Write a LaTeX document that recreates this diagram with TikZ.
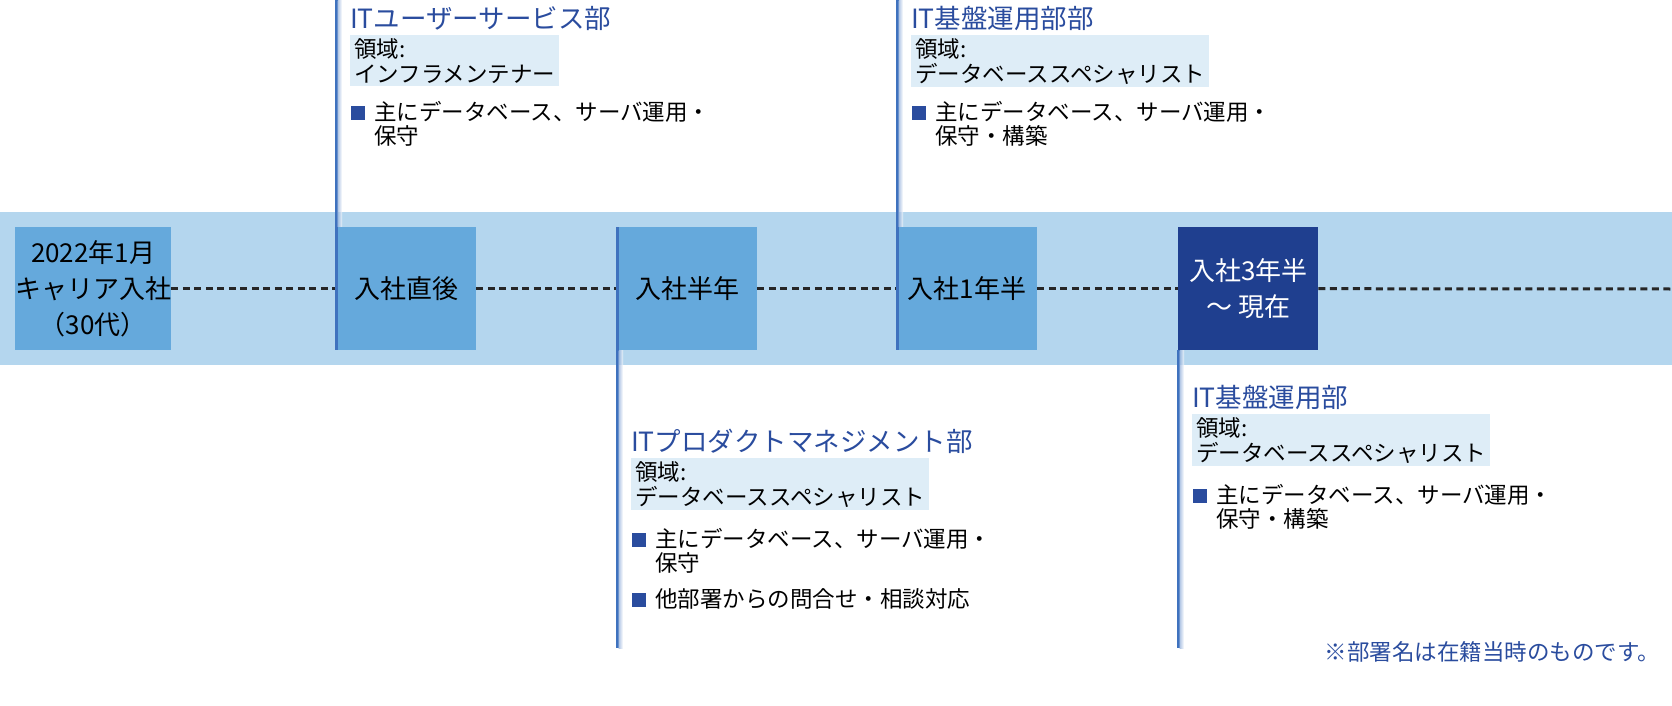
\documentclass[tikz,border=0pt]{standalone}
\usepackage{fontspec}
\setmainfont{Noto Sans CJK JP}
\begin{document}
\begin{tikzpicture}[x=1pt,y=-1pt,
  band/.style={fill=bandc,draw=none},
  stage/.style={fill=boxc,draw=none,minimum width=140pt,minimum height=123pt,inner sep=0pt,align=center,font=\fontsize{26}{36}\selectfont,anchor=north west},
  dotline/.style={line width=3pt,dash pattern=on 7pt off 4.5pt,black!85},
  dept/.style={anchor=west,text=deptc,font=\fontsize{26.5}{30}\selectfont,inner sep=0pt},
  area/.style={anchor=north west,fill=areac,align=left,font=\fontsize{22.5}{25}\selectfont,inner xsep=4pt,inner ysep=3pt},
  bul/.style={anchor=north west,align=left,font=\fontsize{22.5}{24}\selectfont,inner sep=0pt},
  sq/.style={fill=deptc,minimum size=14pt,inner sep=0pt,anchor=north west}]
\definecolor{bandc}{HTML}{B4D6EE}
\definecolor{boxc}{HTML}{65A9DC}
\definecolor{darkc}{HTML}{1F3F8F}
\definecolor{deptc}{HTML}{2A4C9E}
\definecolor{areac}{HTML}{DEEDF7}
\definecolor{linec}{HTML}{3F72BE}
\useasboundingbox (0,0) rectangle (1672,706);
\fill[band] (0,212) rectangle (1672,365);
% vertical lines
\newcommand\vl[3]{\fill[linec] (#1,#2) rectangle (#1+2.5,#3);
  \shade[left color=linec!60!white,right color=white,opacity=0.7] (#1+2.5,#2) rectangle (#1+7,#3);}
\vl{335}{0}{227}
\vl{896}{0}{227}
\vl{616}{350}{648}
\vl{1177}{350}{648}
% stages
\node[stage] (s0) at (15,227) {2022年1月\\キャリア入社\\（30代）};
\node[stage] (s1) at (336,227) {入社直後};
\node[stage] (s2) at (617,227) {入社半年};
\node[stage] (s3) at (897,227) {入社1年半};
\node[stage,fill=darkc,text=white] (s4) at (1178,227) {入社3年半\\〜 現在};
\coordinate (end) at (1672,289);
\draw[dotline] (s0.east) -- (s1.west);
\draw[dotline] (s1.east) -- (s2.west);
\draw[dotline] (s2.east) -- (s3.west);
\draw[dotline] (s3.east) -- (s4.west);
\draw[dotline] (s4.east) -- (end);
\fill[linec] (335,227) rectangle (337.5,350);
\fill[linec] (616,227) rectangle (618.5,350);
\fill[linec] (896,227) rectangle (898.5,350);
% column texts
\newcommand\col[6]{%
 \node[dept] (#1d) at (#2,#3) {#4};
 \node[area] (#1a) at (#2,#3+17) {領域:\\#5};
 #6}
\col{a}{350}{18}{ITユーザーサービス部}{インフラメンテナー}{%
 \node[sq] (aq1) at (351,106) {}; \node[bul] (ab1) at (374,101) {主にデータベース、サーバ運用・\\保守};}
\col{b}{911}{18}{IT基盤運用部部}{データベーススペシャリスト}{%
 \node[sq] (bq1) at (912,106) {}; \node[bul] (bb1) at (935,101) {主にデータベース、サーバ運用・\\保守・構築};}
\col{c}{631}{441}{ITプロダクトマネジメント部}{データベーススペシャリスト}{%
 \node[sq] (cq1) at (632,533) {}; \node[bul] (cb1) at (655,528) {主にデータベース、サーバ運用・\\保守};
 \node[sq] (cq2) at (632,593) {}; \node[bul] (cb2) at (655,588) {他部署からの問合せ・相談対応};}
\col{d}{1192}{397}{IT基盤運用部}{データベーススペシャリスト}{%
 \node[sq] (dq1) at (1193,489) {}; \node[bul] (db1) at (1216,484) {主にデータベース、サーバ運用・\\保守・構築};}
\node[anchor=east,font=\fontsize{22.5}{24}\selectfont,text=deptc,inner sep=0pt] (note) at (1660,652) {※部署名は在籍当時のものです。};
\end{tikzpicture}
\end{document}
